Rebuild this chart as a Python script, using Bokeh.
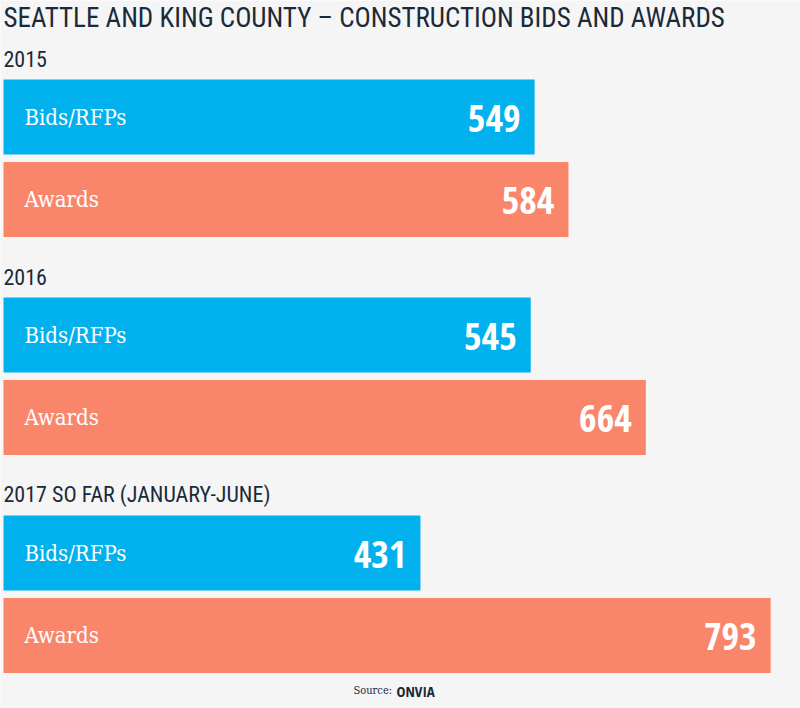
from bokeh.plotting import figure
from bokeh.models import Range1d, ColumnDataSource
from bokeh.core.properties import value
from bokeh.embed import file_html
from bokeh.resources import INLINE

# ---- data ----
title = "SEATTLE AND KING COUNTY \u2013 CONSTRUCTION BIDS AND AWARDS"
periods = ["2015", "2016", "2017 SO FAR (JANUARY-JUNE)"]
series_names = ["Bids/RFPs", "Awards"]
bids = [549, 545, 431]
awards = [584, 664, 793]

BLUE = "#00b1ed"
SALMON = "#f9866b"
DARK = "#1b2a38"
BG = "#f5f5f6"
COND = "Roboto Condensed"

W, H = 800, 708
px_per_unit = 0.9674
left_pad = 3
p = figure(width=W, height=H, output_backend="svg", toolbar_location=None,
           x_range=Range1d(-left_pad / px_per_unit, (W - left_pad) / px_per_unit),
           y_range=Range1d(708, 0),
           min_border=0, background_fill_color=BG, border_fill_color=BG)
p.axis.visible = False
p.grid.visible = False
p.outline_line_color = None

# layout positions (reference pixel rows)
top0, pitch = 58, 218
year_y = [top0 + pitch * i for i in range(len(periods))]
bid_y = [y + 58.5 for y in year_y]
award_y = [y + 141 for y in year_y]
bar_h = 75

src_b = ColumnDataSource(dict(y=bid_y, v=bids, lab=[series_names[0]] * 3,
                              txt=[str(v) for v in bids]))
src_a = ColumnDataSource(dict(y=award_y, v=awards, lab=[series_names[1]] * 3,
                              txt=[str(v) for v in awards]))

for src, col in ((src_b, BLUE), (src_a, SALMON)):
    p.hbar(y="y", left=0, right="v", height=bar_h, source=src,
           fill_color=col, line_color=None)
    p.text(x=0, y="y", text="lab", source=src, x_offset=21,
           text_font=value("DejaVu Serif Condensed"), text_font_size="22px",
           text_color="white", text_baseline="middle", text_align="left")
    p.text(x="v", y="y", text="txt", source=src, x_offset=-14, y_offset=1,
           text_font=value("Open Sans Condensed"),
           text_font_size="38px", text_color="white",
           text_baseline="middle", text_align="right")

p.text(x=[0] * 3, y=year_y, text=periods, x_offset=0,
       text_font=value(COND), text_font_size="22px",
       text_color=DARK, text_baseline="middle", text_align="left")

p.text(x=[0], y=[17], text=[title], x_offset=0,
       text_font=value(COND), text_font_size="27px",
       text_color=DARK, text_baseline="middle", text_align="left")

p.text(x=[0], y=[690], text=["Source:"], x_offset=350,
       text_font=value("DejaVu Serif Condensed"), text_font_size="11px",
       text_color=DARK, text_baseline="middle", text_align="left")
p.text(x=[0], y=[690], text=["ONVIA"], x_offset=393,
       text_font=value("Open Sans Condensed"),
       text_font_size="15px", text_color=DARK, text_baseline="middle",
       text_align="left")

open("out.html", "w").write(file_html(p, INLINE))
